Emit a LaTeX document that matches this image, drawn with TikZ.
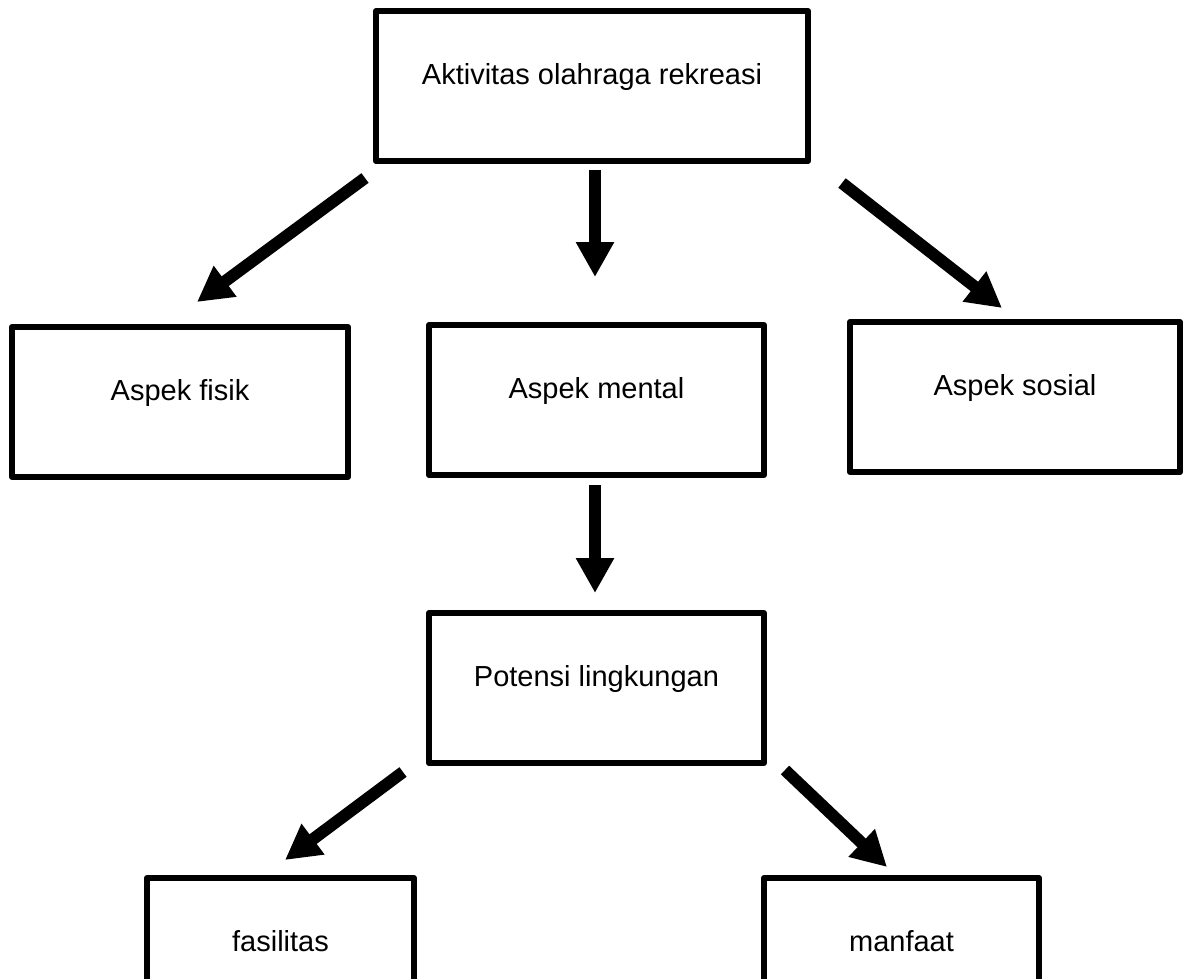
\documentclass[tikz,border=0pt]{standalone}
\usepackage{fontspec}
\setmainfont{Liberation Sans}
\usetikzlibrary{arrows.meta}
\begin{document}
\begin{tikzpicture}[x=1pt,y=-1pt,
  box/.style={draw=black, line width=6pt, line join=round, fill=white,
    inner sep=0pt, outer sep=0pt, anchor=north west,
    text height=73pt, text depth=77pt,
    font=\fontsize{29pt}{35pt}\selectfont},
  bigarrow/.style={line width=12pt, -{Triangle[width=36pt,length=35pt]}}
]
\useasboundingbox[fill=white] (0,0) rectangle (1189,978);
% boxes
\node[box, minimum width=432pt] (top) at (376,11) {Aktivitas olahraga rekreasi};
\node[box, minimum width=336pt] (fisik) at (12,327) {Aspek fisik};
\node[box, minimum width=335pt] (mental) at (429,325) {Aspek mental};
\node[box, minimum width=330pt] (sosial) at (850,322) {Aspek sosial};
\node[box, minimum width=335pt] (potensi) at (429,613) {Potensi lingkungan};
\node[box, minimum width=267pt] (fasilitas) at (147,878) {fasilitas};
\node[box, minimum width=275pt] (manfaat) at (764,878) {manfaat};
% arrow end points
\coordinate (a1s) at (365,178); \coordinate (a1e) at (197,302);
\coordinate (a2s) at (595,170); \coordinate (a2e) at (595,277);
\coordinate (a3s) at (842,183); \coordinate (a3e) at (1002,308);
\coordinate (a4s) at (595,485); \coordinate (a4e) at (595,593);
\coordinate (a5s) at (403,772); \coordinate (a5e) at (285,860);
\coordinate (a6s) at (785,770); \coordinate (a6e) at (887,867);
\draw[bigarrow] (a1s) -- (a1e);
\draw[bigarrow] (a2s) -- (a2e);
\draw[bigarrow] (a3s) -- (a3e);
\draw[bigarrow] (a4s) -- (a4e);
\draw[bigarrow] (a5s) -- (a5e);
\draw[bigarrow] (a6s) -- (a6e);
\end{tikzpicture}
\end{document}
